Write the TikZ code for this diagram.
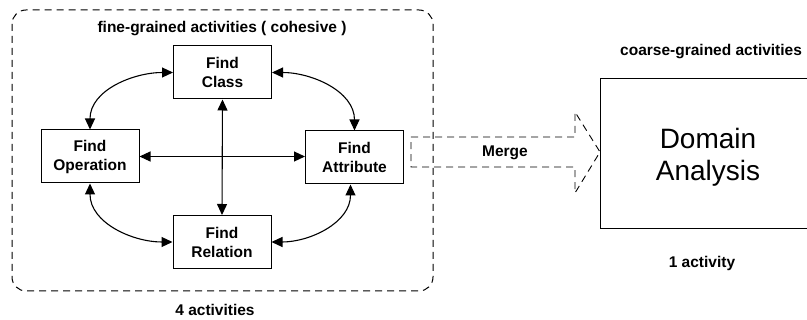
\documentclass[tikz,border=0pt]{standalone}
\usepackage{fontspec}
\setmainfont{Liberation Sans}
\usetikzlibrary{arrows.meta}
\begin{document}
\begin{tikzpicture}[x=1pt,y=-1pt,
  lbl/.style={font=\bfseries\fontsize{15.5}{18}\selectfont, inner sep=0pt},
  act/.style={draw, line width=1pt, minimum width=98pt, minimum height=53pt,
    align=center, font=\bfseries\fontsize{15.5}{19}\selectfont, inner sep=0pt},
  link/.style={line width=1.1pt, {Triangle[length=11pt,width=10pt]}-{Triangle[length=11pt,width=10pt]}},
  dsh/.style={line width=1pt, dash pattern=on 7pt off 5pt}]
\useasboundingbox (0,0) rectangle (807,320);
\clip (0,0) rectangle (807,320);

% grouping frame of the fine-grained activities
\draw[dsh, rounded corners=14pt] (12,10) rectangle (433,291);
\node[lbl] (title) at (222,29) {fine-grained activities ( cohesive )};
\node[lbl] (four) at (215,310) {4 activities};

% the four activities
\node[act] (cls) at (222.5,72.5) {Find\\Class};
\node[act] (op)  at (90,156.5)   {Find\\Operation};
\node[act] (att) at (354.5,157.5) {Find\\Attribute};
\node[act] (rel) at (222,242)    {Find\\Relation};

% relations between the activities
\draw[link] (cls.west) to[out=180,in=90] (op.north);
\draw[link] (cls.east) to[out=0,in=90] (att.north);
\draw[link] (op.south) to[out=-90,in=180] (rel.west);
\draw[link] ([xshift=-4pt]att.south) to[out=-90,in=0] (rel.east);
\draw[link] (cls.south) -- (rel.north);
\draw[link] (op.east) -- (op.east -| att.west);

% merge block arrow
\coordinate (m1) at (411,137);
\coordinate (m2) at (575,137);
\coordinate (m3) at (575,112);
\coordinate (tip) at (600,152);
\coordinate (m4) at (575,193);
\coordinate (m5) at (575,167);
\coordinate (m6) at (411,167);
\draw[dsh, line width=0.9pt] (m1) -- (m2) -- (m3) -- (tip) -- (m4) -- (m5) -- (m6) -- cycle;
\node[lbl] (merge) at (505,153) {Merge};

% the coarse-grained activity
\node[lbl, anchor=west] (coarse) at (620,52) {coarse-grained activities};
\node[draw, line width=1pt, minimum width=240pt, minimum height=150pt, anchor=north west,
  inner sep=0pt] (dom) at (600,78) {};
\node[font=\fontsize{28}{32}\selectfont, align=center] (domtxt) at (708,157) {Domain\\Analysis};
\node[lbl] (one) at (702,263) {1 activity};
\end{tikzpicture}
\end{document}
